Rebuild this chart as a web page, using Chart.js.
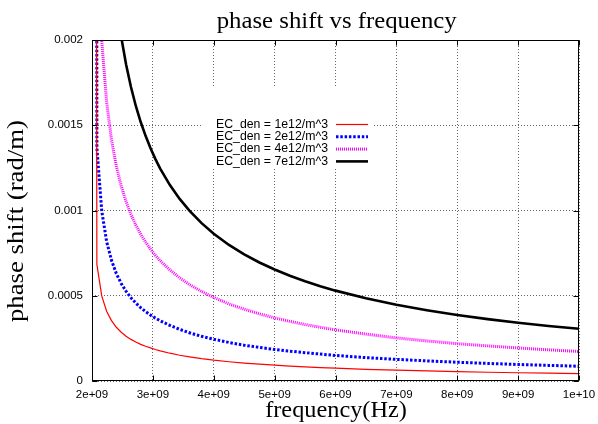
<!DOCTYPE html>
<html>
<head>
<meta charset="utf-8">
<script src="https://cdn.jsdelivr.net/npm/chart.js@4.4.0/dist/chart.umd.min.js"></script>
<style>
  html, body { margin: 0; padding: 0; background: #fff; }
  canvas { display: block; }
</style>
</head>
<body>
<canvas id="phase-chart" width="598" height="424"></canvas>
<script>
// frequency samples (Hz) and phase shift (rad/m)
const freqHz = [2.0e9, 2.08e9, 2.16e9, 2.24e9, 2.32e9, 2.4e9, 2.48e9, 2.56e9, 2.64e9, 2.72e9,
  2.8e9, 2.88e9, 2.96e9, 3.04e9, 3.12e9, 3.28e9, 3.44e9, 3.6e9, 3.8e9, 4.0e9,
  4.25e9, 4.5e9, 4.75e9, 5.0e9, 5.25e9, 5.5e9, 5.75e9, 6.0e9, 6.5e9, 7.0e9,
  7.5e9, 8.0e9, 8.5e9, 9.0e9, 9.5e9, 1.0e10];

const den1e12 = [0.02, 0.000684, 0.000499, 0.000409, 0.000354, 0.000315, 0.000286, 0.000263, 0.000244, 0.000229,
  0.000215, 0.000204, 0.000194, 0.000185, 0.000177, 0.000163, 0.000151, 0.000142, 0.000131, 0.000122,
  0.000113, 0.000105, 0.0000985, 0.0000926, 0.0000874, 0.0000829, 0.0000788, 0.0000751, 0.0000687, 0.0000633,
  0.0000588, 0.0000548, 0.0000514, 0.0000484, 0.0000457, 0.0000434];
const den2e12 = [0.04, 0.001367, 0.000998, 0.000819, 0.000708, 0.000630, 0.000572, 0.000526, 0.000488, 0.000457,
  0.000430, 0.000407, 0.000387, 0.000369, 0.000353, 0.000326, 0.000303, 0.000283, 0.000262, 0.000245,
  0.000226, 0.000210, 0.000197, 0.000185, 0.000175, 0.000166, 0.000158, 0.000150, 0.000137, 0.000127,
  0.000118, 0.000110, 0.000103, 0.0000968, 0.0000915, 0.0000867];
const den4e12 = [0.08, 0.002735, 0.001996, 0.001638, 0.001415, 0.001260, 0.001143, 0.001052, 0.000977, 0.000914,
  0.000861, 0.000815, 0.000774, 0.000738, 0.000706, 0.000651, 0.000605, 0.000566, 0.000525, 0.000490,
  0.000452, 0.000421, 0.000394, 0.000370, 0.000350, 0.000331, 0.000315, 0.000300, 0.000275, 0.000253,
  0.000235, 0.000219, 0.000206, 0.000194, 0.000183, 0.000173];
const den7e12 = [0.14, 0.004826, 0.003522, 0.002890, 0.002498, 0.002224, 0.002018, 0.001856, 0.001724, 0.001613,
  0.001519, 0.001438, 0.001366, 0.001303, 0.001246, 0.001149, 0.001068, 0.000999, 0.000926, 0.000864,
  0.000798, 0.000743, 0.000695, 0.000654, 0.000617, 0.000585, 0.000556, 0.000530, 0.000485, 0.000447,
  0.000415, 0.000387, 0.000363, 0.000342, 0.000323, 0.000306];

const seriesLabels = ['EC_den = 1e12/m^3', 'EC_den = 2e12/m^3', 'EC_den = 4e12/m^3', 'EC_den = 7e12/m^3'];

const xTickValues = [2e9, 3e9, 4e9, 5e9, 6e9, 7e9, 8e9, 9e9, 1e10];
const xTickLabels = ['2e+09', '3e+09', '4e+09', '5e+09', '6e+09', '7e+09', '8e+09', '9e+09', '1e+10'];
const yTickValues = [0, 0.0005, 0.001, 0.0015, 0.002];
const yTickLabels = ['0', '0.0005', '0.001', '0.0015', '0.002'];

const SERIF = '"Liberation Serif", "Times New Roman", serif';
const SANS = '"Liberation Sans", Arial, sans-serif';

function toPoints(values) {
  return freqHz.map((f, i) => ({ x: f, y: values[i] }));
}

// stretch text to a given width
function fittedText(ctx, str, x, y, width, align) {
  const w = ctx.measureText(str).width;
  ctx.save();
  ctx.translate(x, y);
  ctx.scale(width / w, 1);
  ctx.textAlign = align;
  ctx.fillText(str, 0, 0);
  ctx.restore();
}

const gnuplotLook = {
  id: 'gnuplotLook',
  afterDatasetsDraw(chart) {
    const ctx = chart.ctx;
    const sets = chart.data.datasets;

    // key
    ctx.save();
    ctx.fillStyle = '#fff';
    ctx.fillRect(203, 88, 171, 79);
    ctx.fillStyle = '#000';
    ctx.font = '12px ' + SANS;
    ctx.textBaseline = 'middle';
    sets.forEach((ds, i) => {
      const yy = 124.5 + i * 12.3;
      fittedText(ctx, ds.label, 328, yy, 112, 'right');
      ctx.save();
      ctx.strokeStyle = ds.borderColor;
      ctx.lineWidth = ds.borderWidth;
      ctx.setLineDash(ds.borderDash || []);
      ctx.beginPath();
      ctx.moveTo(336, yy);
      ctx.lineTo(368, yy);
      ctx.stroke();
      ctx.restore();
    });
    ctx.restore();
  },
  afterDraw(chart) {
    const { ctx, chartArea: a, scales } = chart;
    const L = Math.round(a.left) + 0.5, R = Math.round(a.right) - 0.5;
    const T = Math.round(a.top) + 0.5, B = Math.round(a.bottom) - 0.5;

    ctx.save();
    ctx.strokeStyle = '#000';
    ctx.lineWidth = 1;
    ctx.setLineDash([]);
    ctx.strokeRect(L, T, R - L, B - T);

    // tics on all four sides
    ctx.beginPath();
    xTickValues.forEach(v => {
      const px = Math.round(scales.x.getPixelForValue(v)) + 0.5;
      ctx.moveTo(px, B); ctx.lineTo(px, B - 5);
      ctx.moveTo(px, T); ctx.lineTo(px, T + 5);
    });
    yTickValues.forEach(v => {
      const py = Math.round(scales.y.getPixelForValue(v)) + 0.5;
      ctx.moveTo(L, py); ctx.lineTo(L + 5, py);
      ctx.moveTo(R, py); ctx.lineTo(R - 5, py);
    });
    ctx.stroke();

    // tick labels
    ctx.fillStyle = '#000';
    ctx.font = '11.5px ' + SANS;
    ctx.textBaseline = 'middle';
    ctx.textAlign = 'center';
    xTickValues.forEach((v, i) => {
      ctx.fillText(xTickLabels[i], scales.x.getPixelForValue(v), 395);
    });
    ctx.textAlign = 'right';
    yTickValues.forEach((v, i) => {
      ctx.fillText(yTickLabels[i], 83, scales.y.getPixelForValue(v));
    });

    // title and axis labels
    ctx.textBaseline = 'alphabetic';
    ctx.font = '23px ' + SERIF;
    fittedText(ctx, 'phase shift vs frequency', 336.7, 27.7, 240, 'center');
    ctx.font = '24px ' + SERIF;
    fittedText(ctx, 'frequency(Hz)', 336, 416.5, 141.7, 'center');
    ctx.save();
    ctx.translate(23, 221);
    ctx.rotate(-Math.PI / 2);
    ctx.font = '24px ' + SERIF;
    fittedText(ctx, 'phase shift (rad/m)', 0, 0, 202, 'center');
    ctx.restore();
    ctx.restore();
  }
};

const ctx = document.getElementById('phase-chart').getContext('2d');
const chart = new Chart(ctx, {
  type: 'line',
  data: {
    datasets: [
      { label: seriesLabels[0], data: toPoints(den1e12), borderColor: '#ff0000', borderWidth: 1.2 },
      { label: seriesLabels[1], data: toPoints(den2e12), borderColor: '#0000ff', borderWidth: 3, borderDash: [2.5, 1.8] },
      { label: seriesLabels[2], data: toPoints(den4e12), borderColor: '#ff00ff', borderWidth: 3, borderDash: [1, 1] },
      { label: seriesLabels[3], data: toPoints(den7e12), borderColor: '#000000', borderWidth: 2.6 }
    ]
  },
  options: {
    responsive: false,
    animation: false,
    clip: 0,
    elements: {
      point: { radius: 0 },
      line: { tension: 0, fill: false }
    },
    layout: { padding: { left: 92, right: 19, top: 40, bottom: 43 } },
    plugins: {
      legend: { display: false },
      title: { display: false },
      tooltip: { enabled: false }
    },
    scales: {
      x: {
        type: 'linear',
        min: 2e9,
        max: 1e10,
        afterBuildTicks: s => { s.ticks = xTickValues.map(v => ({ value: v })); },
        ticks: { display: false },
        grid: { color: 'rgba(0,0,0,0.6)', lineWidth: 1, drawTicks: false },
        border: { display: false, dash: [1, 2] }
      },
      y: {
        type: 'linear',
        min: 0,
        max: 0.002,
        afterBuildTicks: s => { s.ticks = yTickValues.map(v => ({ value: v })); },
        ticks: { display: false },
        grid: { color: 'rgba(0,0,0,0.6)', lineWidth: 1, drawTicks: false },
        border: { display: false, dash: [1, 2] }
      }
    }
  },
  plugins: [gnuplotLook]
});
</script>
</body>
</html>
